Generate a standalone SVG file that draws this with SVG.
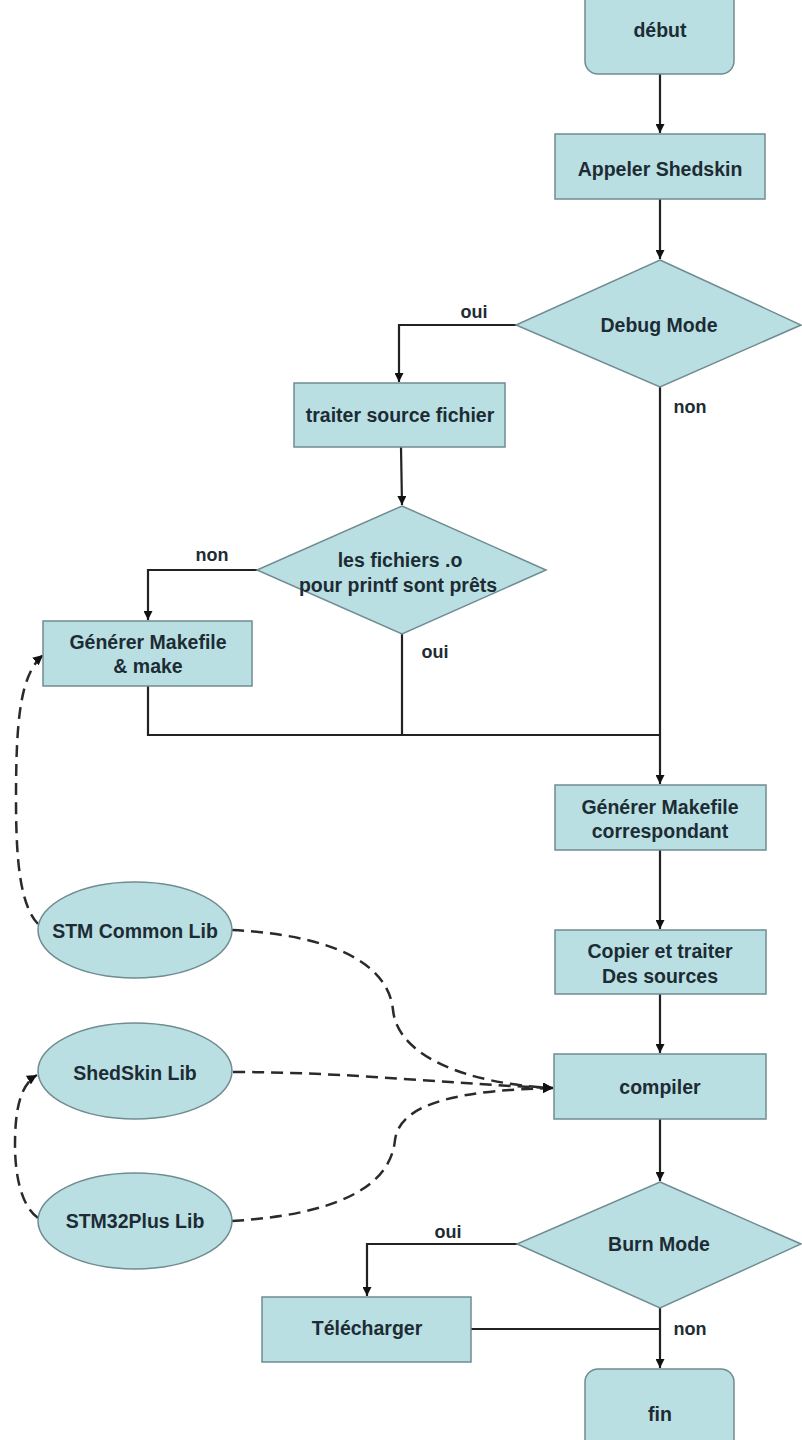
<svg xmlns="http://www.w3.org/2000/svg" width="802" height="1440" viewBox="0 0 802 1440">
<defs>
<style>
.n{fill:#b9dfe3;stroke:#6f8c91;stroke-width:1.5}
.t{font-family:"Liberation Sans",Arial,sans-serif;font-weight:bold;font-size:19.5px;fill:#1d2c34;text-anchor:middle}
.l{font-family:"Liberation Sans",Arial,sans-serif;font-weight:bold;font-size:18px;fill:#1d2c34;text-anchor:middle}
.c{fill:none;stroke:#222;stroke-width:2.2}
.d{fill:none;stroke:#2a2a2a;stroke-width:2.5;stroke-dasharray:12 7}
</style>
<marker id="a" viewBox="0 0 10 10" refX="10" refY="5" markerWidth="9" markerHeight="9" markerUnits="userSpaceOnUse" orient="auto"><path d="M0,0L10,5L0,10z" fill="#111"/></marker>
<marker id="ad" viewBox="0 0 10 10" refX="10" refY="5" markerWidth="10" markerHeight="10" markerUnits="userSpaceOnUse" orient="auto"><path d="M0,0L10,5L0,10z" fill="#111"/></marker>
</defs>
<rect width="802" height="1440" fill="#fff"/>
<g id="connectors">
<path class="c" d="M660,74V133" marker-end="url(#a)"/>
<path class="c" d="M660,199V259" marker-end="url(#a)"/>
<path class="c" d="M516,325H399V382" marker-end="url(#a)"/>
<path class="c" d="M660,387V784" marker-end="url(#a)"/>
<path class="c" d="M401,447L402,505" marker-end="url(#a)"/>
<path class="c" d="M257,570H148V620" marker-end="url(#a)"/>
<path class="c" d="M402,634V735"/>
<path class="c" d="M148,686V735H660"/>
<path class="c" d="M660,850V929" marker-end="url(#a)"/>
<path class="c" d="M660,994V1053" marker-end="url(#a)"/>
<path class="c" d="M660,1119V1181" marker-end="url(#a)"/>
<path class="c" d="M517,1244H367V1296" marker-end="url(#a)"/>
<path class="c" d="M471,1329H660"/>
<path class="c" d="M660,1308V1368" marker-end="url(#a)"/>
<path class="d" d="M38,924C20,905 16,860 16,800C16,720 20,675 43,655" marker-end="url(#ad)"/>
<path class="d" d="M232,930C330,935 388,962 393,1010C398,1058 470,1084 553,1088" marker-end="url(#ad)"/>
<path class="d" d="M233,1072C350,1072 450,1084 553,1088" marker-end="url(#ad)"/>
<path class="d" d="M232,1221C330,1215 390,1190 395,1140C400,1100 470,1090 553,1088" marker-end="url(#ad)"/>
<path class="d" d="M38,1218C20,1205 15,1172 15,1145C15,1110 20,1085 37,1075" marker-end="url(#ad)"/>
</g>
<g id="labels">
<text class="l" x="474" y="318">oui</text>
<text class="l" x="690" y="413">non</text>
<text class="l" x="212" y="561">non</text>
<text class="l" x="435" y="658">oui</text>
<text class="l" x="448" y="1238">oui</text>
<text class="l" x="690" y="1335">non</text>
</g>
<g id="debut"><rect class="n" x="585" y="-20" width="149" height="94" rx="13"/><text class="t" x="660" y="37">début</text></g>
<g id="appeler"><rect class="n" x="555" y="134" width="210" height="65"/><text class="t" x="660" y="176">Appeler Shedskin</text></g>
<g id="debug"><path class="n" d="M660,260L801,325L660,387L516,325Z"/><text class="t" x="659" y="332">Debug Mode</text></g>
<g id="traiter"><rect class="n" x="294" y="383" width="211" height="64"/><text class="t" x="400" y="422">traiter source fichier</text></g>
<g id="fichiers"><path class="n" d="M402,506L546,570L402,634L257,570Z"/><text class="t" x="400" y="567">les fichiers .o</text><text class="t" x="398" y="592">pour printf sont prêts</text></g>
<g id="make"><rect class="n" x="43" y="621" width="209" height="65"/><text class="t" x="148" y="649">Générer Makefile</text><text class="t" x="148" y="673">&amp; make</text></g>
<g id="corresp"><rect class="n" x="555" y="785" width="211" height="65"/><text class="t" x="660" y="814">Générer Makefile</text><text class="t" x="660" y="838">correspondant</text></g>
<g id="copier"><rect class="n" x="555" y="930" width="211" height="64"/><text class="t" x="660" y="958">Copier et traiter</text><text class="t" x="660" y="983">Des sources</text></g>
<g id="compiler"><rect class="n" x="554" y="1054" width="212" height="65"/><text class="t" x="660" y="1094">compiler</text></g>
<g id="burn"><path class="n" d="M660,1182L801,1244L660,1308L517,1244Z"/><text class="t" x="659" y="1251">Burn Mode</text></g>
<g id="telecharger"><rect class="n" x="262" y="1297" width="209" height="65"/><text class="t" x="367" y="1335">Télécharger</text></g>
<g id="fin"><rect class="n" x="585" y="1369" width="149" height="95" rx="13"/><text class="t" x="660" y="1421">fin</text></g>
<g id="stmcommon"><ellipse class="n" cx="135" cy="930" rx="97" ry="48"/><text class="t" x="135" y="938">STM Common Lib</text></g>
<g id="shedskin"><ellipse class="n" cx="135" cy="1071" rx="97" ry="48"/><text class="t" x="135" y="1080">ShedSkin Lib</text></g>
<g id="stm32plus"><ellipse class="n" cx="135" cy="1221" rx="97" ry="48"/><text class="t" x="135" y="1228">STM32Plus Lib</text></g>
</svg>
